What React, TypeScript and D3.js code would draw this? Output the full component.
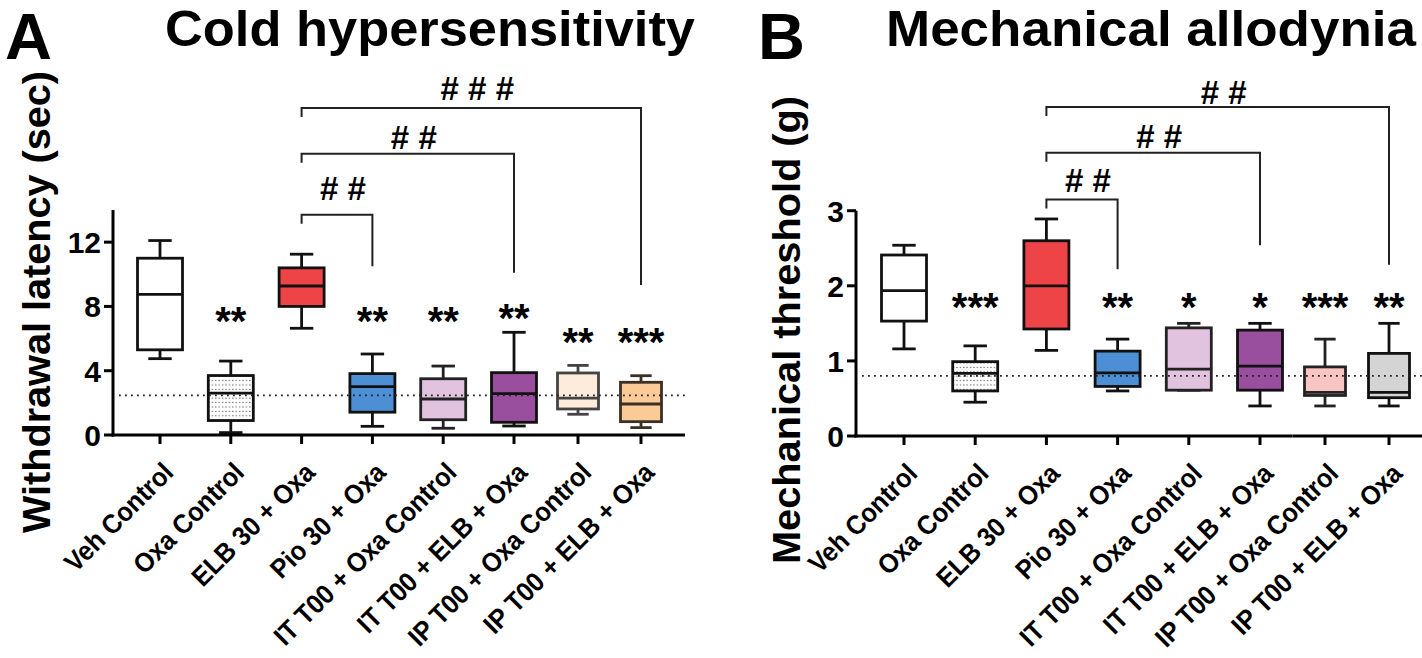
import React from "react";
import * as d3 from "d3";

// ---------- data ----------
const categories = [
  "Veh Control",
  "Oxa Control",
  "ELB 30 + Oxa",
  "Pio 30 + Oxa",
  "IT T00 + Oxa Control",
  "IT T00 + ELB + Oxa",
  "IP T00 + Oxa Control",
  "IP T00 + ELB + Oxa",
];
const mainGroup = categories.slice(0, 6);
const ipGroup = categories.slice(6);

// Panel A: withdrawal latency (sec)
const coldMin = [4.75, 0.15, 6.64, 0.54, 0.42, 0.56, 1.29, 0.46];
const coldQ1 = [5.3, 0.9, 8.0, 1.42, 0.95, 0.79, 1.62, 0.83];
const coldMedian = [8.75, 2.6, 9.27, 3.01, 2.24, 2.57, 2.3, 1.93];
const coldQ3 = [11.0, 3.7, 10.4, 3.82, 3.5, 3.88, 3.86, 3.28];
const coldMax = [12.1, 4.6, 11.25, 5.04, 4.29, 6.39, 4.33, 3.69];
const coldStars = ["", "**", "", "**", "**", "**", "**", "***"];
const coldStarLevel = [0, 7.5, 0, 7.5, 7.5, 7.7, 6.2, 6.2];
const coldRef = 2.46;
const coldTicks = [0, 4, 8, 12];
const coldFills = ["#ffffff", "url(#dots)", "#ee4347", "#4d8fd5", "#e1c3df", "#9a4e9e", "#fdebdb", "#fbca96"];
const coldStrokes = ["#111", "#111", "#111", "#111", "#222", "#111", "#444", "#3b3024"];
const coldBrackets = [
  { from: 2, to: 7, level: 20.35, end: 9.33, label: "# # #", labelLevel: 21.6 },
  { from: 2, to: 5, level: 17.5, end: 10.1, label: "# #", labelLevel: 18.55 },
  { from: 2, to: 3, level: 13.7, end: 10.5, label: "# #", labelLevel: 15.37 },
];

// Panel B: mechanical threshold (g)
const mechMin = [1.16, 0.45, 1.14, 0.6, 0.61, 0.4, 0.4, 0.4];
const mechQ1 = [1.53, 0.6, 1.425, 0.66, 0.61, 0.61, 0.54, 0.51];
const mechMedian = [1.935, 0.835, 2.0, 0.84, 0.89, 0.93, 0.58, 0.58];
const mechQ3 = [2.41, 0.99, 2.6, 1.13, 1.44, 1.41, 0.92, 1.1];
const mechMax = [2.54, 1.2, 2.89, 1.29, 1.5, 1.5, 1.29, 1.5];
const mechStars = ["", "***", "", "**", "*", "*", "***", "**"];
const mechStarLevel = [0, 1.81, 0, 1.81, 1.81, 1.81, 1.81, 1.81];
const mechRef = 0.8;
const mechTicks = [0, 1, 2, 3];
const mechFills = ["#ffffff", "url(#dots)", "#ee4347", "#4d8fd5", "#e1c3df", "#9a4e9e", "#f9c4c4", "#d4d4d4"];
const mechStrokes = ["#111", "#111", "#111", "#111", "#222", "#111", "#222", "#111"];
const mechBrackets = [
  { from: 2, to: 7, level: 4.38, end: 2.28, label: "# #", labelLevel: 4.58 },
  { from: 2, to: 5, level: 3.77, end: 2.54, label: "# #", labelLevel: 4.0 },
  { from: 2, to: 3, level: 3.15, end: 2.22, label: "# #", labelLevel: 3.41 },
];

const FONT = "'Liberation Sans', Arial, Helvetica, sans-serif";

type Bracket = { from: number; to: number; level: number; end: number; label: string; labelLevel: number };

type PanelProps = {
  letter: string;
  letterX: number;
  title: string;
  titleX: number;
  titleW: number;
  yLabel: string;
  yLabelX: number;
  yLabelY: number;
  yLabelW: number;
  axisX: number;
  axisRight: number;
  yTop: number;
  y0: number;
  yMax: number;
  mainRange: [number, number];
  ipRange: [number, number];
  ticks: number[];
  mins: number[];
  q1: number[];
  med: number[];
  q3: number[];
  maxs: number[];
  fills: string[];
  strokes: string[];
  stars: string[];
  starLevel: number[];
  ref: number;
  brackets: Bracket[];
};

function Panel(p: PanelProps) {
  const y = d3.scaleLinear().domain([0, p.yMax]).range([p.y0, p.yTop]);
  const xMain = d3.scalePoint<string>().domain(mainGroup).range(p.mainRange);
  const xIp = d3.scalePoint<string>().domain(ipGroup).range(p.ipRange);
  const x = (c: string) => (mainGroup.includes(c) ? (xMain(c) as number) : (xIp(c) as number));
  const boxW = (c: string) => (mainGroup.includes(c) ? 45 : 41);
  const breakX = (p.mainRange[1] + p.ipRange[0]) / 2;

  return (
    <g>
      <text x={p.letterX} y={59} fontFamily={FONT} fontWeight="bold" fontSize={65} fill="#000">
        {p.letter}
      </text>
      <text
        x={p.titleX}
        y={46}
        fontFamily={FONT}
        fontWeight="bold"
        fontSize={50}
        fill="#000"
        textLength={p.titleW}
        lengthAdjust="spacingAndGlyphs"
      >
        {p.title}
      </text>
      <text
        transform={`translate(${p.yLabelX},${p.yLabelY}) rotate(-90)`}
        textAnchor="middle"
        fontFamily={FONT}
        fontWeight="bold"
        fontSize={38}
        fill="#000"
        textLength={p.yLabelW}
        lengthAdjust="spacingAndGlyphs"
      >
        {p.yLabel}
      </text>

      {/* boxes */}
      {categories.map((c, i) => {
        const cx = x(c);
        const w = boxW(c);
        const cap = w * 0.52;
        return (
          <g key={c} stroke={p.strokes[i]} strokeWidth={2.8}>
            <line x1={cx} x2={cx} y1={y(p.maxs[i])} y2={y(p.q3[i])} />
            <line x1={cx} x2={cx} y1={y(p.q1[i])} y2={y(p.mins[i])} />
            <line x1={cx - cap / 2} x2={cx + cap / 2} y1={y(p.maxs[i])} y2={y(p.maxs[i])} />
            <line x1={cx - cap / 2} x2={cx + cap / 2} y1={y(p.mins[i])} y2={y(p.mins[i])} />
            <rect
              x={cx - w / 2}
              y={y(p.q3[i])}
              width={w}
              height={y(p.q1[i]) - y(p.q3[i])}
              fill={p.fills[i]}
            />
            <line x1={cx - w / 2} x2={cx + w / 2} y1={y(p.med[i])} y2={y(p.med[i])} />
          </g>
        );
      })}

      {/* reference dotted line */}
      <line
        x1={p.axisX + 6}
        x2={p.axisRight}
        y1={y(p.ref)}
        y2={y(p.ref)}
        stroke="#222"
        strokeWidth={1.8}
        strokeDasharray="1.8,4.2"
      />

      {/* stars */}
      {categories.map((c, i) =>
        p.stars[i] ? (
          <text
            key={"s" + c}
            x={x(c)}
            y={y(p.starLevel[i]) + 21}
            textAnchor="middle"
            fontFamily={FONT}
            fontWeight="bold"
            fontSize={40}
            fill="#000"
          >
            {p.stars[i]}
          </text>
        ) : null
      )}

      {/* brackets */}
      {p.brackets.map((b, i) => {
        const xa = x(categories[b.from]);
        const xb = x(categories[b.to]);
        const ly = y(b.level);
        return (
          <g key={"b" + i}>
            <path
              d={`M${xa},${ly + 9} V${ly} H${xb} V${y(b.end)}`}
              fill="none"
              stroke="#222"
              strokeWidth={2}
            />
            <text
              x={(xa + xb) / 2 + 6}
              y={y(b.labelLevel) + 12}
              textAnchor="middle"
              fontFamily={FONT}
              fontWeight="bold"
              fontSize={33}
              fill="#000"
            >
              {b.label}
            </text>
          </g>
        );
      })}

      {/* y axis */}
      <line x1={p.axisX} x2={p.axisX} y1={p.yTop} y2={p.y0 + 1.5} stroke="#000" strokeWidth={3} />
      {p.ticks.map((t) => (
        <g key={"t" + t}>
          <line x1={p.axisX - 9} x2={p.axisX} y1={y(t)} y2={y(t)} stroke="#000" strokeWidth={3} />
          <text
            x={p.axisX - 12}
            y={y(t) + 11}
            textAnchor="end"
            fontFamily={FONT}
            fontWeight="bold"
            fontSize={30}
            fill="#000"
          >
            {t}
          </text>
        </g>
      ))}

      {/* x axis (two segments) */}
      <line x1={p.axisX - 1.5} x2={breakX} y1={p.y0} y2={p.y0} stroke="#000" strokeWidth={3} />
      <line x1={breakX} x2={p.axisRight} y1={p.y0} y2={p.y0} stroke="#000" strokeWidth={3} />
      {categories.map((c) => (
        <g key={"x" + c}>
          <line x1={x(c)} x2={x(c)} y1={p.y0} y2={p.y0 + 9} stroke="#000" strokeWidth={3} />
          <text
            transform={`translate(${x(c) + 15},${p.y0 + 39}) rotate(-45) scale(0.93,1)`}
            textAnchor="end"
            fontFamily={FONT}
            fontWeight="bold"
            fontSize={27}
            fill="#000"
          >
            {c}
          </text>
        </g>
      ))}
    </g>
  );
}

export default function App() {
  return (
    <svg
      width={1422}
      height={658}
      viewBox="0 0 1422 658"
      style={{ position: "absolute", left: 0, top: 0, background: "#fff" }}
    >
      <defs>
        <pattern id="dots" width={3.4} height={4.4} patternUnits="userSpaceOnUse">
          <rect width={3.4} height={4.4} fill="#fff" />
          <rect x={1} y={1.6} width={1.2} height={1.1} fill="#555" />
        </pattern>
      </defs>
      <rect width={1422} height={658} fill="#fff" />
      <Panel
        letter="A"
        letterX={5}
        title="Cold hypersensitivity"
        titleX={165}
        titleW={530}
        yLabel="Withdrawal latency (sec)"
        yLabelX={50}
        yLabelY={302}
        yLabelW={462}
        axisX={113}
        axisRight={685}
        yTop={210}
        y0={435}
        yMax={14}
        mainRange={[160, 514]}
        ipRange={[578, 641]}
        ticks={coldTicks}
        mins={coldMin}
        q1={coldQ1}
        med={coldMedian}
        q3={coldQ3}
        maxs={coldMax}
        fills={coldFills}
        strokes={coldStrokes}
        stars={coldStars}
        starLevel={coldStarLevel}
        ref={coldRef}
        brackets={coldBrackets}
      />
      <Panel
        letter="B"
        letterX={758}
        title="Mechanical allodynia"
        titleX={886}
        titleW={530}
        yLabel="Mechanical threshold (g)"
        yLabelX={800}
        yLabelY={330}
        yLabelW={468}
        axisX={856}
        axisRight={1422}
        yTop={210.7}
        y0={436}
        yMax={3}
        mainRange={[904, 1260]}
        ipRange={[1325, 1389]}
        ticks={mechTicks}
        mins={mechMin}
        q1={mechQ1}
        med={mechMedian}
        q3={mechQ3}
        maxs={mechMax}
        fills={mechFills}
        strokes={mechStrokes}
        stars={mechStars}
        starLevel={mechStarLevel}
        ref={mechRef}
        brackets={mechBrackets}
      />
    </svg>
  );
}
